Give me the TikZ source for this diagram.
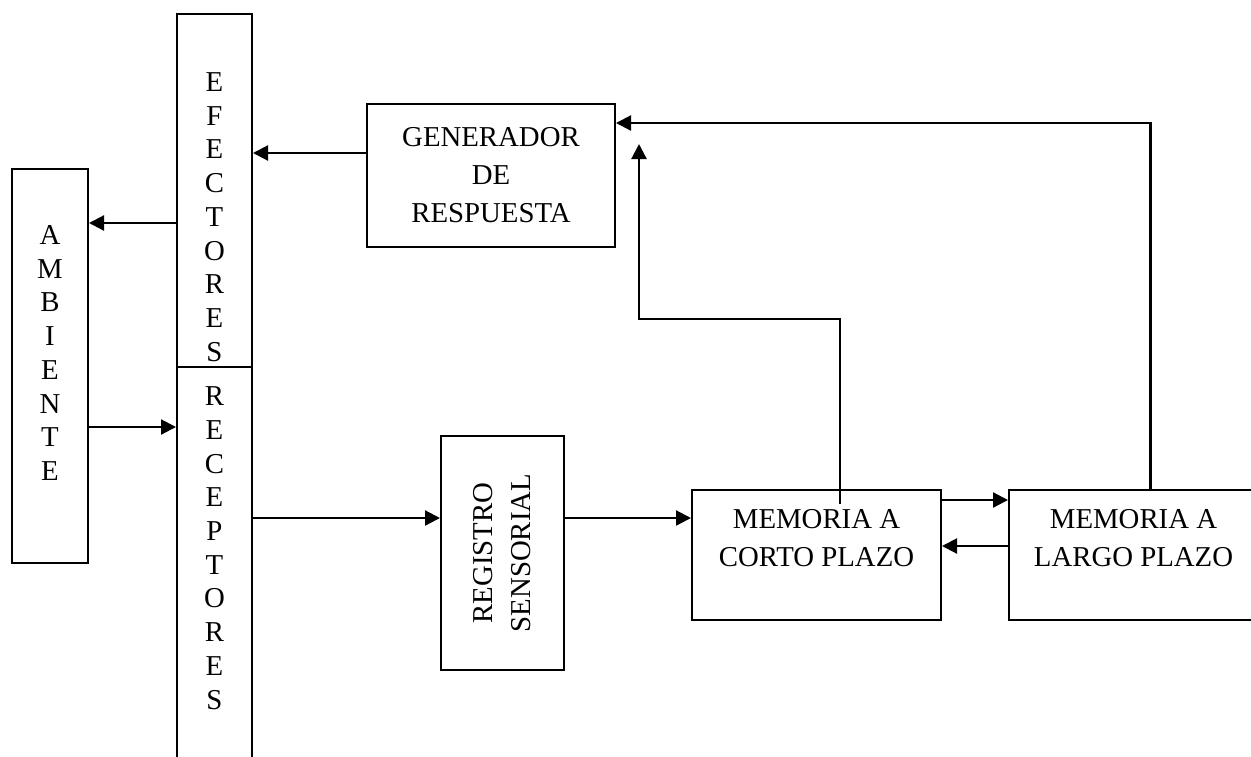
\documentclass[tikz,border=0pt]{standalone}
\usepackage{fontspec}
\setmainfont{Liberation Serif}
\usetikzlibrary{arrows.meta,positioning}

\begin{document}
\begin{tikzpicture}[x=0.5pt, y=-0.5pt, >={Triangle[length=7.5pt,width=7.5pt]},
  font=\fontsize{14.4pt}{19pt}\selectfont,
  box/.style={draw, line width=1pt, fill=white, align=center, inner sep=0pt},
  col/.style={box, minimum width=37.5pt, minimum height=198pt, font=\fontsize{14.4pt}{16.85pt}\selectfont},
  mem/.style={box, minimum width=124.5pt, minimum height=65pt, text depth=17pt},
  lnk/.style={line width=1.1pt}]
\useasboundingbox (0,0) rectangle (1251,756);
% columnas de la izquierda
\node[col, text height=149.3pt] (efe) at (214.5,212) {E\\F\\E\\C\\T\\O\\R\\E\\S};
\node[col, text depth=17pt] (rec) at (214.5,565) {R\\E\\C\\E\\P\\T\\O\\R\\E\\S};
\node[col, minimum width=38pt, minimum height=197pt, text depth=13pt] (amb) at (50,366) {A\\M\\B\\I\\E\\N\\T\\E};
% bloques
\node[box, minimum width=124pt, minimum height=71.5pt] (gen) at (491,175.5) {GENERADOR\\DE\\RESPUESTA};
\node[box, rotate=90, minimum width=117pt, minimum height=61.5pt] (reg) at (502.5,553) {REGISTRO\\SENSORIAL};
\node[mem] (cor) at (816.5,555) {MEMORIA A\\CORTO PLAZO};
\node[mem, right=33pt of cor] (lar) {MEMORIA A\\LARGO PLAZO};
\coordinate (tip) at (639,144);
\draw[lnk,->] (gen.west |- 0,153) -- (efe.east |- 0,153);
\draw[lnk,->] (efe.west |- 0,223) -- (amb.east |- 0,223);
\draw[lnk,->] (amb.east |- 0,427) -- (rec.west |- 0,427);
\draw[lnk,->] (rec.east |- 0,518) -- (reg.north |- 0,518);
\draw[lnk,->] (reg.south |- 0,518) -- (cor.west |- 0,518);
\draw[lnk,->] (cor.east |- 0,500) -- (lar.west |- 0,500);
\draw[lnk,->] (lar.west |- 0,546) -- (cor.east |- 0,546);
\draw[lnk,->] ([shift={(23.5,15)}]cor.north) -- ++(0,-185) -| (tip);
\draw[lnk,->] ([xshift=8.5pt]lar.north) |- (gen.east |- 0,123);
\end{tikzpicture}
\end{document}
